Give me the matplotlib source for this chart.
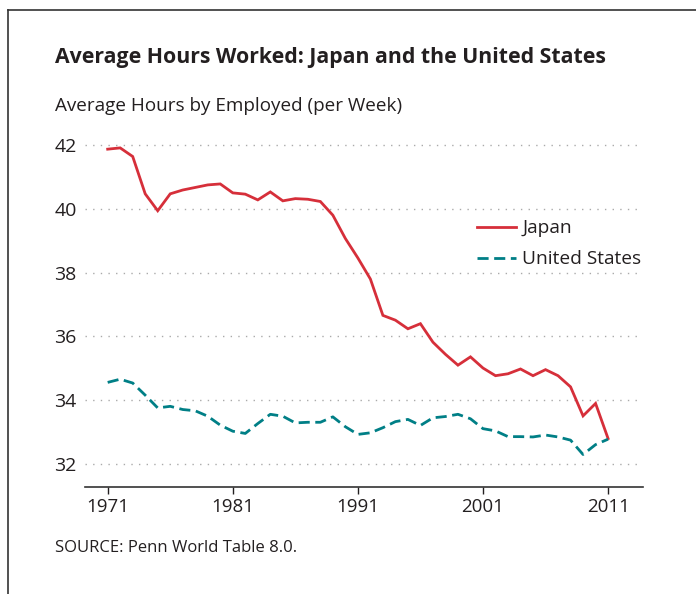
import matplotlib
matplotlib.use('Agg')
import matplotlib.pyplot as plt
from matplotlib.lines import Line2D

years = list(range(1971, 2012))
japan = [41.87, 41.91, 41.64, 40.47, 39.94, 40.47, 40.59, 40.67, 40.75, 40.78,
         40.50, 40.46, 40.28, 40.53, 40.25, 40.32, 40.30, 40.23, 39.80, 39.07,
         38.46, 37.80, 36.66, 36.51, 36.24, 36.40, 35.82, 35.44, 35.10, 35.36,
         35.01, 34.77, 34.83, 34.98, 34.77, 34.96, 34.77, 34.42, 33.51, 33.90,
         32.80]
united_states = [34.56, 34.66, 34.54, 34.16, 33.76, 33.81, 33.71, 33.67, 33.50, 33.22,
                 33.03, 32.96, 33.27, 33.56, 33.50, 33.29, 33.31, 33.31, 33.48, 33.17,
                 32.93, 32.98, 33.14, 33.33, 33.40, 33.21, 33.45, 33.49, 33.56, 33.42,
                 33.11, 33.04, 32.86, 32.86, 32.85, 32.91, 32.85, 32.75, 32.30, 32.61,
                 32.78]
x_ticks = [1971, 1981, 1991, 2001, 2011]
y_ticks = [32, 34, 36, 38, 40, 42]

red = '#d62f3a'
teal = '#007f86'
text_col = '#231f20'

plt.rcParams['font.family'] = ['Open Sans', 'DejaVu Sans']

fig = plt.figure(figsize=(6.96, 5.94), dpi=100)
ax = fig.add_axes([0.122, 0.1806, 0.802, 0.586])

ax.plot(years, japan, color=red, lw=2.0, label='Japan', solid_joinstyle='miter')
ax.plot(years, united_states, color=teal, lw=2.0, dashes=(4, 2), label='United States')

ax.set_xlim(1969.18, 2013.8)
ax.set_ylim(31.29, 42.2)
ax.set_xticks(x_ticks)
ax.set_yticks(y_ticks)
ax.tick_params(axis='x', direction='out', length=5, width=1, colors=text_col,
               labelsize=13.5, pad=3)
ax.tick_params(axis='y', length=0, labelsize=14, colors=text_col, pad=6)
ax.grid(axis='y', color='#aaaaaa', lw=1, linestyle=(0, (1, 4.5)))
for s in ['top', 'right', 'left']:
    ax.spines[s].set_visible(False)
ax.spines['bottom'].set_color('#333333')
ax.spines['bottom'].set_linewidth(1.2)

leg = ax.legend(loc='upper left', bbox_to_anchor=(0.672, 0.818), frameon=False,
                fontsize=13.8, handlelength=2.03, labelspacing=0.68, handletextpad=0.31)
for t in leg.get_texts():
    t.set_color(text_col)

fig.text(55 / 696, 1 - 58 / 594, 'Average Hours Worked: Japan and the United States',
         fontsize=15.3, fontweight='bold', color=text_col, va='center', ha='left')
fig.text(55 / 696, 1 - 106 / 594, 'Average Hours by Employed (per Week)',
         fontsize=13.6, color=text_col, va='center', ha='left')
fig.text(55 / 696, 1 - 548 / 594, 'SOURCE: Penn World Table 8.0.',
         fontsize=12, color=text_col, va='center', ha='left')

# frame lines (left and top only)
fig.add_artist(Line2D([8 / 696, 8 / 696], [0, 1 - 10 / 594], color='#333333', lw=1.2))
fig.add_artist(Line2D([8 / 696, 1], [1 - 10 / 594, 1 - 10 / 594], color='#333333', lw=1.2))

fig.savefig('out.png', dpi=100)
